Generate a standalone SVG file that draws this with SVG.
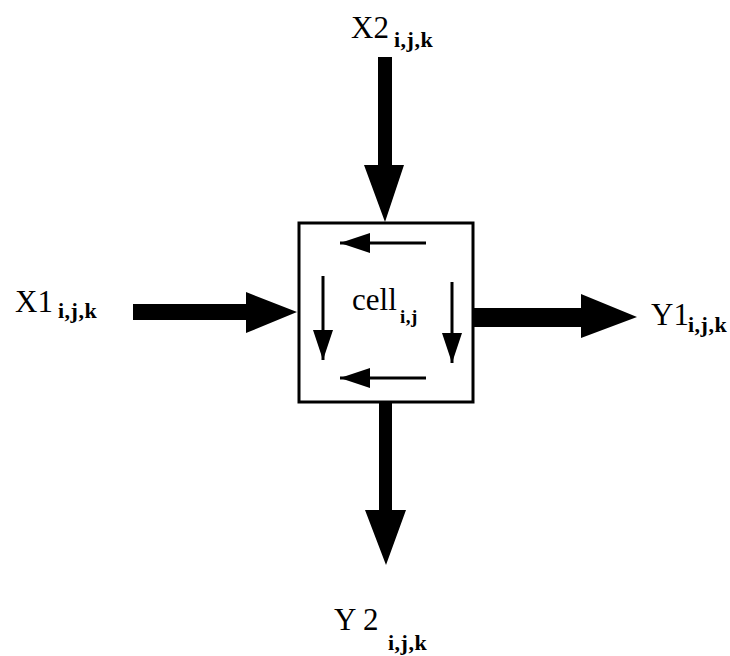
<svg xmlns="http://www.w3.org/2000/svg" width="730" height="656" viewBox="0 0 730 656">
<defs>
<style>
.lbl{font-family:"Liberation Serif","Times New Roman",serif;font-size:31px;fill:#000}
.sub{font-family:"Liberation Serif","Times New Roman",serif;font-size:22px;font-weight:bold;letter-spacing:0.5px;fill:#000}
.big{fill:#000;stroke:none}
.thin{stroke:#000;stroke-width:3;fill:none}
</style>
<marker id="ah" viewBox="0 0 30 20" refX="30" refY="10" markerWidth="30" markerHeight="20" markerUnits="userSpaceOnUse" orient="auto">
<path d="M0,0 L30,10 L0,20 Z" fill="#000"/>
</marker>
</defs>
<rect width="730" height="656" fill="#fff"/>
<g id="cell">
<rect x="299" y="223" width="174" height="179" fill="#fff" stroke="#000" stroke-width="3"/>
<text class="lbl" x="352" y="310">cell</text>
<text class="sub" x="400" y="323" style="font-size:19px">i,j</text>
</g>
<g id="X2">
<text class="lbl" x="351" y="38">X2</text>
<text class="sub" x="394" y="47">i,j,k</text>
</g>
<g id="X1">
<text class="lbl" x="15" y="312">X1</text>
<text class="sub" x="58" y="318">i,j,k</text>
</g>
<g id="Y1">
<text class="lbl" x="651" y="325">Y1</text>
<text class="sub" x="688" y="332">i,j,k</text>
</g>
<g id="Y2">
<text class="lbl" x="334" y="630">Y 2</text>
<text class="sub" x="388" y="650">i,j,k</text>
</g>
<g id="connectors">
<polygon class="big" points="378,57 392,57 392,165 404,165 385,222 364,165 378,165"/>
<polygon class="big" points="133,304 246,304 246,292 297,312 246,333 246,320 133,320"/>
<polygon class="big" points="473,308 581,308 581,294 637,317 581,338 581,327 473,327"/>
<polygon class="big" points="379,402 392,402 392,510 406,510 386,565 365,510 379,510"/>
<line class="thin" x1="426" y1="243" x2="340" y2="243" marker-end="url(#ah)"/>
<line class="thin" x1="426" y1="378" x2="340" y2="378" marker-end="url(#ah)"/>
<line class="thin" x1="323" y1="276" x2="323" y2="360" marker-end="url(#ah)"/>
<line class="thin" x1="452" y1="282" x2="452" y2="363" marker-end="url(#ah)"/>
</g>
</svg>
